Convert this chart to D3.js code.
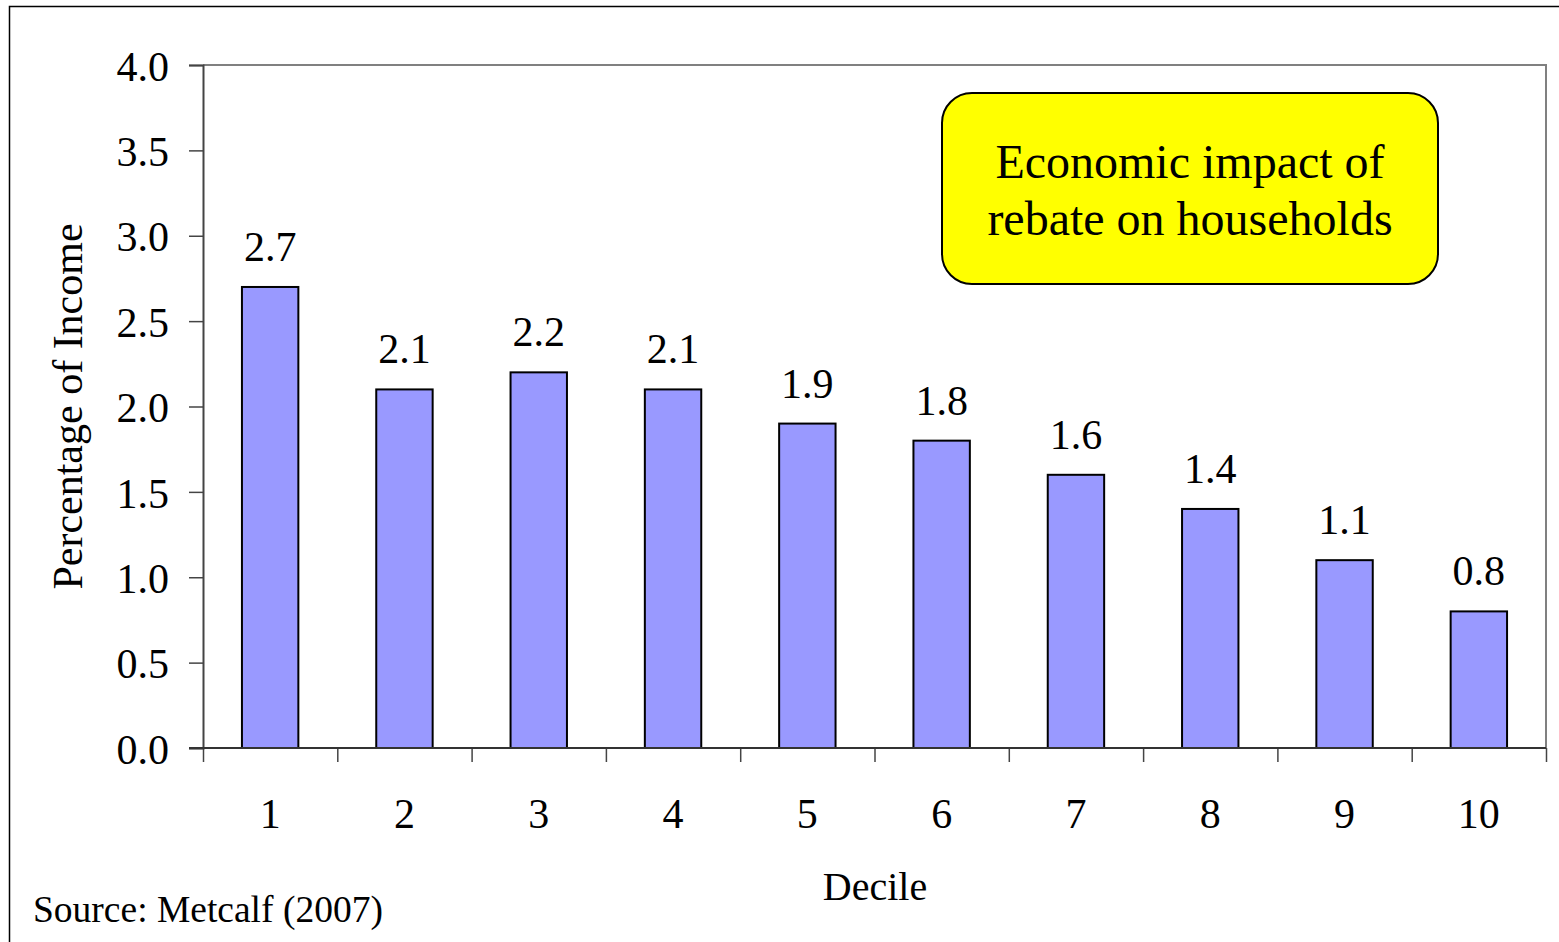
<!DOCTYPE html>
<html>
<head>
<meta charset="utf-8">
<script src="https://cdn.jsdelivr.net/npm/d3@7"></script>
<style>
  body { margin: 0; background: #fff; }
  text { font-family: "Liberation Serif", "Times New Roman", serif; fill: #000; }
</style>
</head>
<body>
<div id="chart"></div>
<script>
var deciles = ["1", "2", "3", "4", "5", "6", "7", "8", "9", "10"];
var rebateShare = [2.7, 2.1, 2.2, 2.1, 1.9, 1.8, 1.6, 1.4, 1.1, 0.8];
var yTicks = [0, 0.5, 1, 1.5, 2, 2.5, 3, 3.5, 4];
var calloutLines = ["Economic impact of", "rebate on households"];

function init() {
  var W = 1559, H = 942;
  var plotLeft = 203, plotRight = 1546, plotTop = 65, plotBottom = 748;
  var serif = "'Liberation Serif', 'Times New Roman', serif";

  var svg = d3.select("#chart").append("svg")
    .attr("width", W)
    .attr("height", H);

  // outer slide frame
  svg.append("rect")
    .attr("x", 9.5).attr("y", 6.5)
    .attr("width", 1600).attr("height", 1000)
    .attr("fill", "none").attr("stroke", "#000").attr("stroke-width", 1.5);

  var x = d3.scaleBand()
    .domain(deciles)
    .range([plotLeft, plotRight])
    .paddingInner(0.58)
    .paddingOuter(0.29);

  // boundaries between categories, for the tick marks
  var xEdge = d3.scaleLinear().domain([0, deciles.length]).range([plotLeft, plotRight]);

  var y = d3.scaleLinear()
    .domain([0, 4])
    .range([plotBottom, plotTop]);

  // gray top and right border of the plot
  svg.append("path")
    .attr("d", "M" + plotLeft + "," + plotTop + "H" + plotRight + "V" + plotBottom)
    .attr("fill", "none").attr("stroke", "#808080").attr("stroke-width", 2);

  // bars
  svg.selectAll("rect.bar")
    .data(rebateShare)
    .enter()
    .append("rect")
    .attr("class", "bar")
    .attr("x", function(d, i) { return x(deciles[i]); })
    .attr("y", function(d) { return y(d); })
    .attr("width", x.bandwidth())
    .attr("height", function(d) { return y(0) - y(d); })
    .attr("fill", "#9999FF")
    .attr("stroke", "#000")
    .attr("stroke-width", 2);

  // value labels
  svg.selectAll("text.val")
    .data(rebateShare)
    .enter()
    .append("text")
    .attr("class", "val")
    .attr("x", function(d, i) { return x(deciles[i]) + x.bandwidth() / 2; })
    .attr("y", function(d) { return y(d) - 26; })
    .attr("text-anchor", "middle")
    .style("font-size", "42px")
    .text(function(d) { return d.toFixed(1); });

  // y axis
  var yAxis = svg.append("g")
    .attr("transform", "translate(" + plotLeft + ",0)")
    .call(d3.axisLeft(y).tickValues(yTicks).tickFormat(d3.format(".1f")).tickSize(14).tickPadding(20));
  yAxis.select(".domain").attr("stroke", "#444").attr("stroke-width", 2);
  yAxis.selectAll(".tick line").attr("stroke", "#444").attr("stroke-width", 1.5);
  yAxis.selectAll(".tick text")
    .attr("dy", "0.36em")
    .style("font-size", "42px")
    .style("font-family", serif);

  // x axis: tick marks at category edges
  var xTickAxis = svg.append("g")
    .attr("transform", "translate(0," + plotBottom + ")")
    .call(d3.axisBottom(xEdge).tickValues(d3.range(deciles.length + 1)).tickFormat("").tickSize(14).tickSizeOuter(0));
  xTickAxis.select(".domain").remove();
  xTickAxis.selectAll(".tick line").attr("stroke", "#444").attr("stroke-width", 1.5);

  svg.append("line")
    .attr("x1", plotLeft - 14).attr("x2", plotRight)
    .attr("y1", plotBottom).attr("y2", plotBottom)
    .attr("stroke", "#333").attr("stroke-width", 2);

  // x axis: category labels
  var xAxis = svg.append("g")
    .attr("transform", "translate(0," + plotBottom + ")")
    .call(d3.axisBottom(x).tickSize(0).tickPadding(50));
  xAxis.select(".domain").remove();
  xAxis.selectAll(".tick text")
    .style("font-size", "42px")
    .style("font-family", serif);

  // axis titles
  svg.append("text")
    .attr("transform", "translate(82," + ((plotTop + plotBottom) / 2) + ") rotate(-90)")
    .attr("text-anchor", "middle")
    .style("font-size", "42px")
    .text("Percentage of Income");

  svg.append("text")
    .attr("x", 875)
    .attr("y", 900)
    .attr("text-anchor", "middle")
    .style("font-size", "40px")
    .text("Decile");

  svg.append("text")
    .attr("x", 33)
    .attr("y", 922)
    .style("font-size", "37.5px")
    .text("Source: Metcalf (2007)");

  // callout box
  svg.append("rect")
    .attr("x", 942).attr("y", 93)
    .attr("width", 496).attr("height", 191)
    .attr("rx", 30).attr("ry", 30)
    .attr("fill", "#FFFF00")
    .attr("stroke", "#000").attr("stroke-width", 2);

  svg.selectAll("text.callout")
    .data(calloutLines)
    .enter()
    .append("text")
    .attr("class", "callout")
    .attr("x", 1190)
    .attr("y", function(d, i) { return 178 + i * 57; })
    .attr("text-anchor", "middle")
    .style("font-size", "48px")
    .text(function(d) { return d; });
}

init();
</script>
</body>
</html>
